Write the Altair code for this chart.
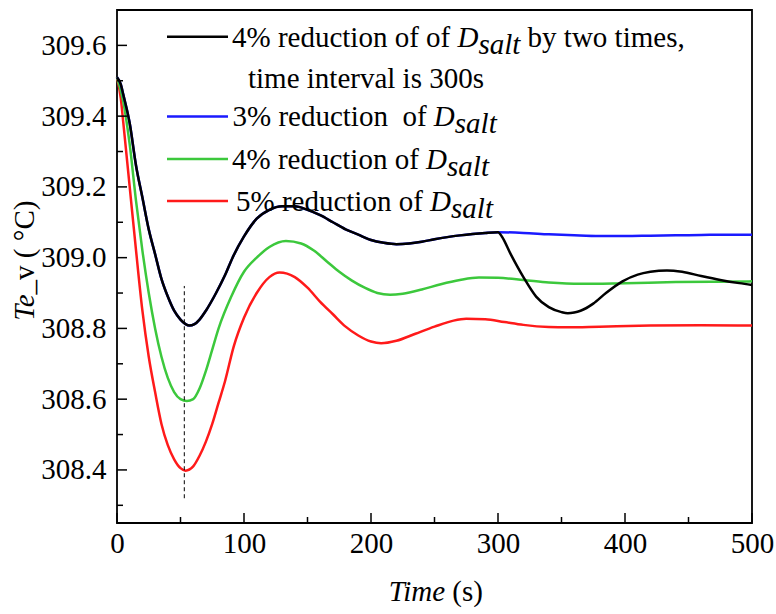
import altair as alt
import pandas as pd

# ---------------- data ----------------
# shared part of the black and blue curves (identical up to 300 s)
t_common = [0, 3, 5, 10, 15, 20, 25, 30, 35, 40, 45, 50, 54, 57, 61, 65, 70, 78, 85, 91,
            100, 110, 120, 130, 140, 150, 160, 170, 180, 190, 200, 210, 220, 230,
            240, 250, 260, 270, 280, 290, 300]
y_common = [309.51, 309.49, 309.46, 309.38, 309.26, 309.17, 309.08, 309.01, 308.94,
            308.89, 308.85, 308.825, 308.812, 308.808, 308.812, 308.825, 308.85, 308.90,
            308.95, 309.00, 309.06, 309.11, 309.135, 309.145, 309.145, 309.135, 309.12,
            309.10, 309.08, 309.065, 309.05, 309.042, 309.038, 309.040, 309.045, 309.052,
            309.058, 309.063, 309.067, 309.070, 309.072]

# black: second 4% reduction at 300 s
t_black_after = [303, 310, 320, 330, 340, 350, 355, 360, 365, 375, 385, 398, 410, 420,
                 433, 445, 460, 475, 490, 500]
y_black_after = [309.06, 309.01, 308.945, 308.89, 308.86, 308.846, 308.843, 308.845,
                 308.85, 308.87, 308.90, 308.933, 308.952, 308.96, 308.964, 308.96,
                 308.948, 308.937, 308.928, 308.923]

# blue: 3% reduction, after 300 s
t_blue_after = [320, 340, 360, 380, 400, 420, 440, 460, 480, 500]
y_blue_after = [309.07, 309.066, 309.063, 309.061, 309.061, 309.062, 309.063,
                309.064, 309.065, 309.065]

# green: 4% reduction
t_green = [0, 5, 10, 15, 20, 25, 30, 35, 40, 45, 50, 55, 60, 65, 70, 75, 80, 90,
           100, 110, 120, 133, 145, 155, 165, 175, 185, 195, 205, 215, 225, 240,
           255, 270, 285, 300, 320, 340, 365, 400, 440, 500]
y_green = [309.51, 309.44, 309.32, 309.16, 309.02, 308.90, 308.80, 308.72, 308.66,
           308.62, 308.60, 308.595, 308.60, 308.63, 308.68, 308.74, 308.80, 308.89,
           308.96, 309.00, 309.03, 309.047, 309.04, 309.02, 308.99, 308.96, 308.935,
           308.915, 308.90, 308.895, 308.898, 308.91, 308.925, 308.937, 308.944,
           308.943, 308.937, 308.93, 308.926, 308.928, 308.931, 308.933]

# red: 5% reduction
t_red = [0, 3, 5, 10, 15, 20, 25, 30, 35, 40, 45, 50, 54, 60, 65, 70, 75, 80, 85,
         92, 100, 110, 120, 128, 140, 150, 160, 170, 180, 190, 200, 208, 220, 235,
         250, 265, 275, 290, 305, 320, 340, 355, 380, 420, 460, 500]
y_red = [309.51, 309.45, 309.38, 309.20, 309.02, 308.85, 308.72, 308.62, 308.53,
         308.47, 308.43, 308.405, 308.398, 308.41, 308.44, 308.48, 308.53, 308.59,
         308.65, 308.75, 308.83, 308.90, 308.945, 308.958, 308.945, 308.915, 308.875,
         308.84, 308.805, 308.78, 308.763, 308.758, 308.765, 308.785, 308.805,
         308.822, 308.827, 308.826, 308.818, 308.81, 308.804, 308.803, 308.805,
         308.808, 308.809, 308.808]

# dashed marker at the first minimum
marker_t = [53]
marker_lo = [308.32]
marker_hi = [308.92]

x_major = [0, 100, 200, 300, 400, 500]
x_minor = [50, 150, 250, 350, 450]
y_major = [308.4, 308.6, 308.8, 309.0, 309.2, 309.4, 309.6]
y_minor = [308.3, 308.5, 308.7, 308.9, 309.1, 309.3, 309.5]

# ---------------- layout ----------------
W, H = 635, 513
FONT = "Liberation Serif, Times New Roman, serif"
FS = 29
NB = "\u00a0"
xscale = alt.Scale(domain=[0, 500], nice=False, zero=False)
yscale = alt.Scale(domain=[308.25, 309.7], nice=False, zero=False)

XA = alt.Axis(values=x_major, ticks=False, domain=False, grid=False,
              labelFont=FONT, labelFontSize=FS, labelColor="black",
              labelPadding=6, labelFlush=False, title=None, format="d")
YA = alt.Axis(values=y_major, ticks=False, domain=False, grid=False,
              labelFont=FONT, labelFontSize=FS, labelColor="black",
              labelPadding=11, title=None, format=".1f")

# Times / Liberation Serif advance widths (1/1000 em)
REG = {' ': 250, NB: 250, '%': 833, ',': 250, 'a': 444, 'b': 500, 'c': 444, 'd': 500,
       'e': 444, 'f': 333, 'i': 278, 'l': 278, 'm': 778, 'n': 500, 'o': 500,
       'r': 333, 's': 389, 't': 278, 'u': 500, 'v': 500, 'w': 722, 'y': 500,
       '(': 333, ')': 333, '_': 500, '°': 400, 'C': 667}
ITA = {'D': 722, 's': 389, 'a': 500, 'l': 278, 't': 278, 'T': 556, 'e': 444,
       'i': 278, 'm': 722}


def tw(s, italic=False, fs=FS):
    tab = ITA if italic else REG
    return sum(tab.get(ch, 500) for ch in s) * fs / 1000.0


SP = tw(" ")
one = pd.DataFrame({"k": [0]})


def txt(x, y, s, italic=False, align="left", baseline="alphabetic", angle=0):
    kw = dict(align=align, baseline=baseline, font=FONT, fontSize=FS,
              color="black", fontStyle="italic" if italic else "normal")
    if angle:
        kw["angle"] = angle
    return alt.Chart(one).mark_text(**kw).encode(
        x=alt.value(x), y=alt.value(y), text=alt.value(s))


def line_layer(ts, vs, color):
    df = pd.DataFrame({"t": ts, "v": vs})
    return alt.Chart(df).mark_line(color=color, strokeWidth=2.5,
                                   interpolate="monotone").encode(
        x=alt.X("t:Q", scale=xscale, axis=XA),
        y=alt.Y("v:Q", scale=yscale, axis=YA))


layers = []
layers.append(line_layer(t_red, y_red, "#FF1A1A"))
layers.append(line_layer(t_green, y_green, "#3CC83C"))
layers.append(line_layer(t_common + t_blue_after, y_common + y_blue_after, "#1A1AFF"))
layers.append(line_layer(t_common + t_black_after, y_common + y_black_after, "#000000"))

# dashed marker
layers.append(alt.Chart(pd.DataFrame({"t": marker_t, "v": marker_lo, "hi": marker_hi}))
              .mark_rule(color="black", strokeWidth=1, strokeDash=[4, 3])
              .encode(x=alt.X("t:Q", scale=xscale, axis=XA),
                      y=alt.Y("v:Q", scale=yscale, axis=YA), y2="hi:Q"))

# inward ticks
for vals, ln in ((x_major, 10), (x_minor, 6)):
    layers.append(alt.Chart(pd.DataFrame({"t": vals})).mark_rule(color="black", strokeWidth=1.5)
                  .encode(x=alt.X("t:Q", scale=xscale, axis=XA),
                          y=alt.value(H), y2=alt.value(H - ln)))
for vals, ln in ((y_major, 10), (y_minor, 6)):
    layers.append(alt.Chart(pd.DataFrame({"v": vals})).mark_rule(color="black", strokeWidth=1.5)
                  .encode(y=alt.Y("v:Q", scale=yscale, axis=YA),
                          x=alt.value(0), x2=alt.value(ln)))

# axis titles (mixed italic / roman)
xt_center, xt_y = 318, 582
x_total = tw("Time", True) + SP + tw("(s)")
xj = xt_center - x_total / 2 + tw("Time", True)
layers.append(txt(xj, xt_y, "Time", italic=True, align="right", baseline="middle"))
layers.append(txt(xj + SP, xt_y, "(s)", align="left", baseline="middle"))

yt_center, yt_x = 252, -92
ysuf = "_v" + NB + "(" + NB + "°C)"
y_total = tw("Te", True) + tw(ysuf)
yj = yt_center + y_total / 2 - tw("Te", True)
layers.append(txt(yt_x, yj, "Te", italic=True, align="right", baseline="middle", angle=270))
layers.append(txt(yt_x, yj, ysuf, align="left", baseline="middle", angle=270))

# custom legend
legend_rows = [
    ("#000000", 26.7, 115, 36.7, "4% reduction of of" + NB, "by two times,"),
    ("#1A1AFF", 106.5, 115.5, 115.5, "3% reduction" + NB + NB + "of" + NB, ""),
    ("#3CC83C", 149, 115, 158.5, "4% reduction of" + NB, ""),
    ("#FF1A1A", 191, 119, 200.7, "5% reduction of" + NB, ""),
]
for color, ly, tx, by, prefix, suffix in legend_rows:
    layers.append(alt.Chart(one).mark_rule(color=color, strokeWidth=2.5)
                  .encode(x=alt.value(50), x2=alt.value(111), y=alt.value(ly)))
    layers.append(txt(tx, by, prefix))
    xd = tx + tw(prefix)
    layers.append(txt(xd, by, "D", italic=True))
    xs = xd + tw("D", True)
    layers.append(txt(xs, by + 7, "salt", italic=True))
    if suffix:
        layers.append(txt(xs + tw("salt", True) + SP, by, suffix))
layers.append(txt(131, 78.3, "time interval is 300s"))

chart = alt.layer(*layers).properties(
    width=W, height=H,
    padding={"left": 117, "top": 10, "right": 24, "bottom": 91},
    autosize=alt.AutoSizeParams(type="none"),
    background="white",
).configure_view(stroke="black", strokeWidth=1.8)

chart.save("out.html", embed_options={"renderer": "svg", "actions": False})
